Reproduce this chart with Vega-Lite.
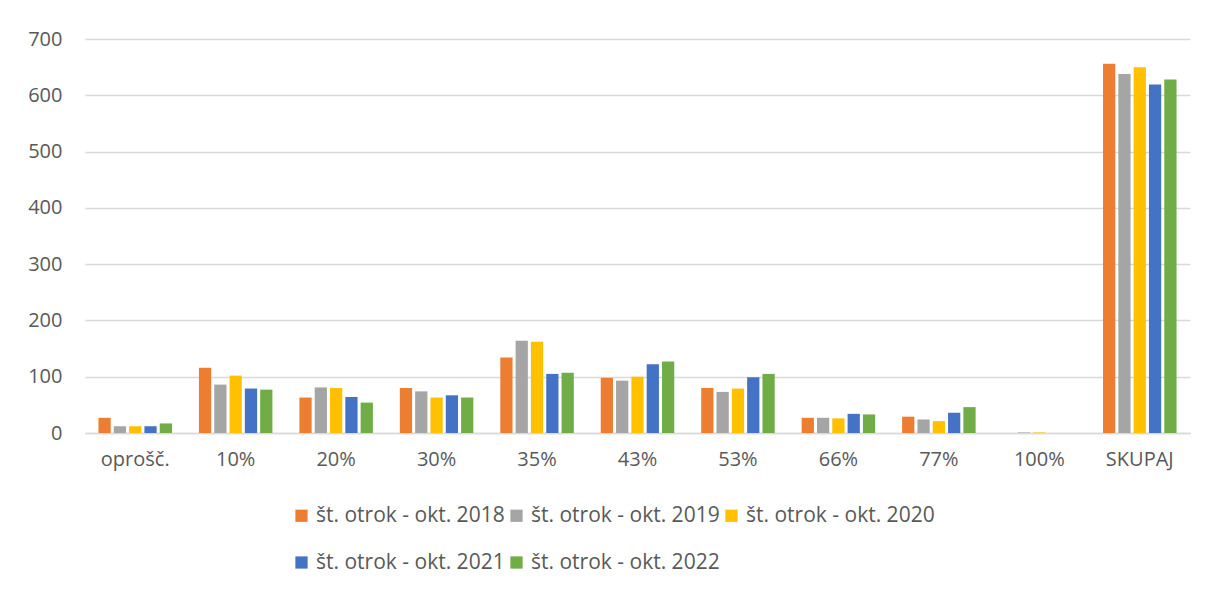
{
  "$schema": "https://vega.github.io/schema/vega-lite/v6.json",
  "autosize": "none",
  "width": 1105,
  "height": 394,
  "padding": {"left": 85, "top": 39, "right": 18, "bottom": 158},
  "background": "white",
  "config": {
    "font": "Open Sans",
    "view": {"stroke": null},
    "axis": {"labelFont": "Open Sans", "labelColor": "#595959", "labelFontSize": 20, "titleFont": "Open Sans"},
    "legend": {"labelFont": "Open Sans", "labelColor": "#595959", "labelFontSize": 21}
  },
  "data": {
    "values": [
      {"cat": "oprošč.", "series": "št. otrok - okt. 2018", "value": 27},
      {"cat": "oprošč.", "series": "št. otrok - okt. 2019", "value": 12},
      {"cat": "oprošč.", "series": "št. otrok - okt. 2020", "value": 12},
      {"cat": "oprošč.", "series": "št. otrok - okt. 2021", "value": 12},
      {"cat": "oprošč.", "series": "št. otrok - okt. 2022", "value": 17},
      {"cat": "10%", "series": "št. otrok - okt. 2018", "value": 116},
      {"cat": "10%", "series": "št. otrok - okt. 2019", "value": 86},
      {"cat": "10%", "series": "št. otrok - okt. 2020", "value": 102},
      {"cat": "10%", "series": "št. otrok - okt. 2021", "value": 79},
      {"cat": "10%", "series": "št. otrok - okt. 2022", "value": 77},
      {"cat": "20%", "series": "št. otrok - okt. 2018", "value": 63},
      {"cat": "20%", "series": "št. otrok - okt. 2019", "value": 81},
      {"cat": "20%", "series": "št. otrok - okt. 2020", "value": 80},
      {"cat": "20%", "series": "št. otrok - okt. 2021", "value": 64},
      {"cat": "20%", "series": "št. otrok - okt. 2022", "value": 54},
      {"cat": "30%", "series": "št. otrok - okt. 2018", "value": 80},
      {"cat": "30%", "series": "št. otrok - okt. 2019", "value": 74},
      {"cat": "30%", "series": "št. otrok - okt. 2020", "value": 63},
      {"cat": "30%", "series": "št. otrok - okt. 2021", "value": 67},
      {"cat": "30%", "series": "št. otrok - okt. 2022", "value": 63},
      {"cat": "35%", "series": "št. otrok - okt. 2018", "value": 134},
      {"cat": "35%", "series": "št. otrok - okt. 2019", "value": 164},
      {"cat": "35%", "series": "št. otrok - okt. 2020", "value": 162},
      {"cat": "35%", "series": "št. otrok - okt. 2021", "value": 105},
      {"cat": "35%", "series": "št. otrok - okt. 2022", "value": 107},
      {"cat": "43%", "series": "št. otrok - okt. 2018", "value": 98},
      {"cat": "43%", "series": "št. otrok - okt. 2019", "value": 93},
      {"cat": "43%", "series": "št. otrok - okt. 2020", "value": 100},
      {"cat": "43%", "series": "št. otrok - okt. 2021", "value": 122},
      {"cat": "43%", "series": "št. otrok - okt. 2022", "value": 127},
      {"cat": "53%", "series": "št. otrok - okt. 2018", "value": 80},
      {"cat": "53%", "series": "št. otrok - okt. 2019", "value": 73},
      {"cat": "53%", "series": "št. otrok - okt. 2020", "value": 79},
      {"cat": "53%", "series": "št. otrok - okt. 2021", "value": 99},
      {"cat": "53%", "series": "št. otrok - okt. 2022", "value": 105},
      {"cat": "66%", "series": "št. otrok - okt. 2018", "value": 27},
      {"cat": "66%", "series": "št. otrok - okt. 2019", "value": 27},
      {"cat": "66%", "series": "št. otrok - okt. 2020", "value": 26},
      {"cat": "66%", "series": "št. otrok - okt. 2021", "value": 34},
      {"cat": "66%", "series": "št. otrok - okt. 2022", "value": 33},
      {"cat": "77%", "series": "št. otrok - okt. 2018", "value": 29},
      {"cat": "77%", "series": "št. otrok - okt. 2019", "value": 24},
      {"cat": "77%", "series": "št. otrok - okt. 2020", "value": 21},
      {"cat": "77%", "series": "št. otrok - okt. 2021", "value": 36},
      {"cat": "77%", "series": "št. otrok - okt. 2022", "value": 46},
      {"cat": "100%", "series": "št. otrok - okt. 2018", "value": 0},
      {"cat": "100%", "series": "št. otrok - okt. 2019", "value": 1},
      {"cat": "100%", "series": "št. otrok - okt. 2020", "value": 1},
      {"cat": "100%", "series": "št. otrok - okt. 2021", "value": 0},
      {"cat": "100%", "series": "št. otrok - okt. 2022", "value": 0},
      {"cat": "SKUPAJ", "series": "št. otrok - okt. 2018", "value": 656},
      {"cat": "SKUPAJ", "series": "št. otrok - okt. 2019", "value": 638},
      {"cat": "SKUPAJ", "series": "št. otrok - okt. 2020", "value": 650},
      {"cat": "SKUPAJ", "series": "št. otrok - okt. 2021", "value": 619},
      {"cat": "SKUPAJ", "series": "št. otrok - okt. 2022", "value": 628}
    ]
  },
  "mark": {"type": "bar"},
  "encoding": {
    "x": {
      "field": "cat",
      "type": "nominal",
      "sort": null,
      "scale": {"paddingInner": 0, "paddingOuter": 0},
      "axis": {"title": null, "labelAngle": 0, "ticks": false, "domain": true, "domainColor": "#d9d9d9", "domainWidth": 1.5, "labelPadding": 16}
    },
    "xOffset": {
      "field": "series",
      "type": "nominal",
      "scale": {"paddingInner": 0.2, "paddingOuter": 0.88}
    },
    "y": {
      "field": "value",
      "type": "quantitative",
      "scale": {"domain": [0, 700], "nice": false},
      "axis": {"title": null, "values": [0, 100, 200, 300, 400, 500, 600, 700], "domain": false, "ticks": false, "gridColor": "#d9d9d9", "gridWidth": 1.5, "labelPadding": 23}
    },
    "color": {
      "field": "series",
      "type": "nominal",
      "scale": {"range": ["#ED7D31", "#A5A5A5", "#FFC000", "#4472C4", "#70AD47"]},
      "legend": {
        "title": null,
        "orient": "none",
        "legendX": 206,
        "legendY": 466,
        "direction": "horizontal",
        "columns": 3,
        "symbolType": "square",
        "symbolSize": 150,
        "symbolStrokeWidth": 0,
        "labelOffset": 4,
        "labelLimit": 0,
        "columnPadding": 1,
        "rowPadding": 25
      }
    }
  }
}
